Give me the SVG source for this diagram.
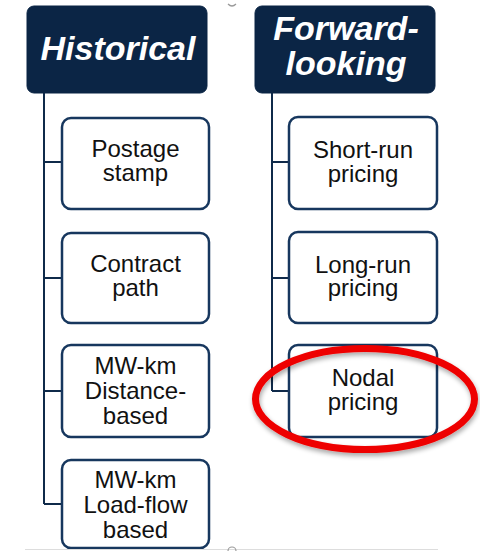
<svg xmlns="http://www.w3.org/2000/svg" width="480" height="551" viewBox="0 0 480 551">
<defs>
<style>
.hdr{fill:#0b2545;stroke:#0b2545;stroke-width:1}
.hdt{font-family:"Liberation Sans",Arial,sans-serif;font-weight:bold;font-style:italic;font-size:34px;fill:#ffffff;text-anchor:middle}
.box{fill:#ffffff;stroke:#17375e;stroke-width:2.5}
.bt{font-family:"Liberation Sans",Arial,sans-serif;font-size:24px;fill:#111111;text-anchor:middle}
.con{fill:none;stroke:#0f2a4a;stroke-width:2}
</style>
<filter id="sh" x="-20%" y="-30%" width="140%" height="160%">
<feGaussianBlur in="SourceAlpha" stdDeviation="2.5"/>
<feOffset dx="1" dy="3" result="b"/>
<feComponentTransfer><feFuncA type="linear" slope="0.35"/></feComponentTransfer>
<feMerge><feMergeNode/><feMergeNode in="SourceGraphic"/></feMerge>
</filter>
</defs>
<rect width="480" height="551" fill="#ffffff"/>
<g id="connectors">
<path class="con" d="M44 93 V504 M44 162 H62 M44 278 H62 M44 391 H62 M44 504 H62"/>
<path class="con" d="M272 93 V391 M272 162 H289 M272 278 H289 M272 391 H289"/>
</g>
<g id="historical">
<rect class="hdr" x="27" y="6" width="180" height="87" rx="7"/>
<text class="hdt" x="118" y="60">Historical</text>
</g>
<g id="forward-looking">
<rect class="hdr" x="255" y="6" width="180" height="87" rx="7"/>
<text class="hdt" x="346" y="40">Forward-</text>
<text class="hdt" x="346" y="75">looking</text>
</g>
<g id="postage-stamp">
<rect class="box" x="62" y="118" width="147" height="91" rx="9"/>
<text class="bt" x="135.5" y="157">Postage</text>
<text class="bt" x="135.5" y="181">stamp</text>
</g>
<g id="contract-path">
<rect class="box" x="62" y="233" width="147" height="90" rx="9"/>
<text class="bt" x="135.5" y="272">Contract</text>
<text class="bt" x="135.5" y="296">path</text>
</g>
<g id="mwkm-distance">
<rect class="box" x="62" y="345" width="147" height="92" rx="9"/>
<text class="bt" x="135.5" y="374">MW-km</text>
<text class="bt" x="135.5" y="399">Distance-</text>
<text class="bt" x="135.5" y="424">based</text>
</g>
<g id="mwkm-loadflow">
<rect class="box" x="62" y="460" width="147" height="88" rx="9"/>
<text class="bt" x="135.5" y="488">MW-km</text>
<text class="bt" x="135.5" y="513">Load-flow</text>
<text class="bt" x="135.5" y="538">based</text>
</g>
<g id="short-run">
<rect class="box" x="289" y="117" width="148" height="92" rx="9"/>
<text class="bt" x="363" y="158">Short-run</text>
<text class="bt" x="363" y="182">pricing</text>
</g>
<g id="long-run">
<rect class="box" x="289" y="232" width="148" height="91" rx="9"/>
<text class="bt" x="363" y="273">Long-run</text>
<text class="bt" x="363" y="296">pricing</text>
</g>
<g id="nodal">
<rect class="box" x="289" y="345" width="148" height="92" rx="9"/>
<text class="bt" x="363" y="386">Nodal</text>
<text class="bt" x="363" y="410">pricing</text>
</g>
<g id="highlight">
<ellipse cx="365" cy="399" rx="109.5" ry="50.5" fill="none" stroke="#ee0000" stroke-width="7" filter="url(#sh)"/>
</g>
<g id="selection" fill="none" stroke="#9a9a9a" stroke-width="1.2">
<line x1="25" y1="549.5" x2="438" y2="549.5" stroke="#dddddd" stroke-width="1"/>
<path d="M228 4 Q232 8 236 4"/>
<path d="M228 551 A4 4 0 0 1 236 551"/>
</g>
</svg>
